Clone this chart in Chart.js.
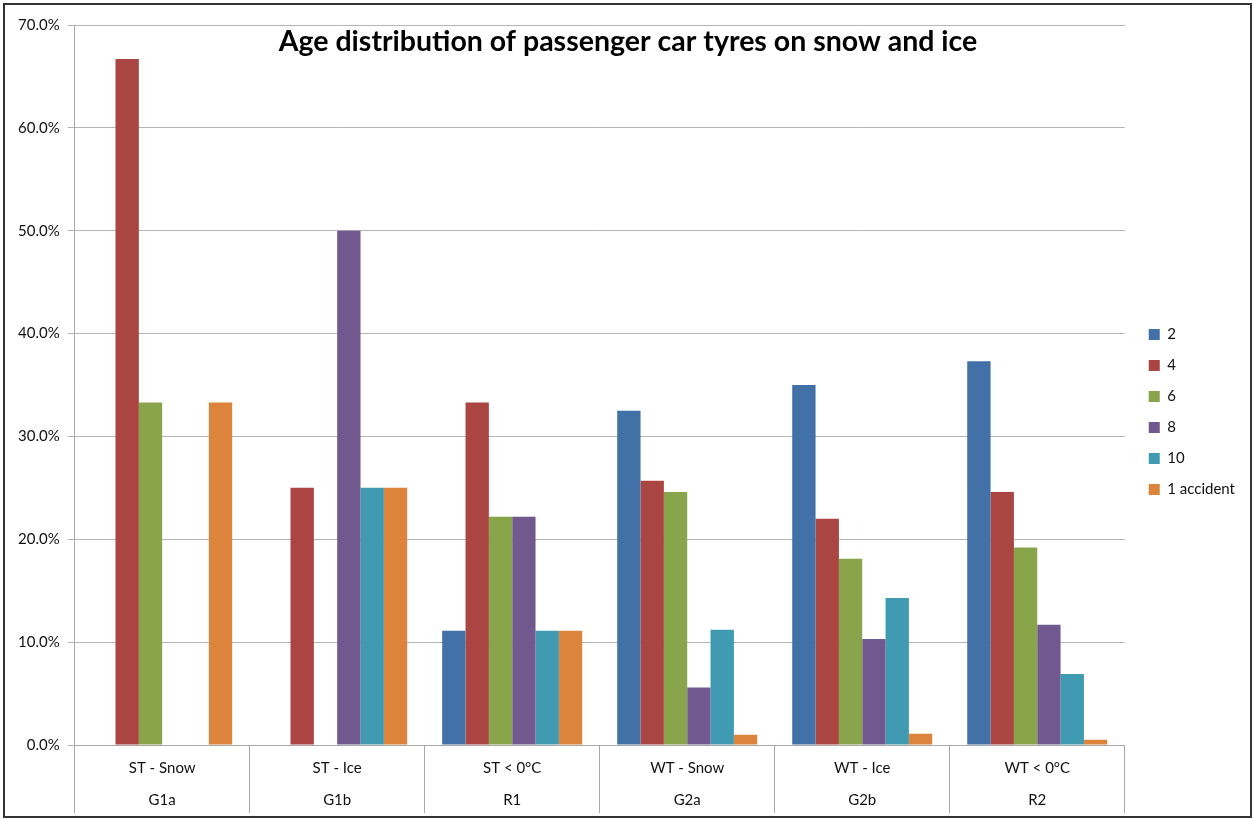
<!DOCTYPE html>
<html lang="en">
<head>
<meta charset="UTF-8">
<title>Age distribution of passenger car tyres</title>
<style>
  body { margin: 0; background: #fff; }
  #wrap { position: relative; width: 1254px; height: 819px; }
  #frame { position: absolute; left: 3px; top: 3px; width: 1245px; height: 811px;
           border: 2px solid #333; pointer-events: none; }
</style>
</head>
<body>
<div id="wrap">
  <canvas id="myChart" width="1254" height="819"></canvas>
  <div id="frame"></div>
</div>
<script src="https://cdn.jsdelivr.net/npm/chart.js@4/dist/chart.umd.min.js"></script>
<script>
// categories (two label rows)
const conditions = ['ST - Snow', 'ST - Ice', 'ST < 0°C', 'WT - Snow', 'WT - Ice', 'WT < 0°C'];
const groups = ['G1a', 'G1b', 'R1', 'G2a', 'G2b', 'R2'];

// age classes, values in percent
const age2 = [0, 0, 11.1, 32.5, 35.0, 37.3];
const age4 = [66.7, 25.0, 33.3, 25.7, 22.0, 24.6];
const age6 = [33.3, 0, 22.2, 24.6, 18.1, 19.2];
const age8 = [0, 50.0, 22.2, 5.6, 10.3, 11.7];
const age10 = [0, 25.0, 11.1, 11.2, 14.3, 6.9];
const accident1 = [33.3, 25.0, 11.1, 1.0, 1.1, 0.5];

const seriesNames = ['2', '4', '6', '8', '10', '1 accident'];
const colors = ['#4271a8', '#aa4542', '#89a54c', '#71588f', '#3f9ab2', '#dc843b'];

const yTicks = [0, 10, 20, 30, 40, 50, 60, 70];
const chartTitle = 'Age distribution of passenger car tyres on snow and ice';

const FONT = 'Lato, "Open Sans", sans-serif';

// title sits inside the plot area like in the original
const titlePlugin = {
  id: 'insideTitle',
  afterLayout(chart) {
    // nudge the legend a bit away from the plot and up
    chart.legend.left += 8;
    chart.legend.top -= 10;
    chart.legend.bottom -= 10;
  },
  afterDraw(chart) {
    const c = chart.ctx;
    c.save();
    c.font = 'bold 28.5px ' + FONT;
    c.fillStyle = '#000';
    c.textAlign = 'center';
    c.textBaseline = 'middle';
    c.fillText(chartTitle, 628, 42);
    c.restore();
  }
};

const allSeries = [age2, age4, age6, age8, age10, accident1];

const ctx = document.getElementById('myChart').getContext('2d');
const myChart = new Chart(ctx, {
  type: 'bar',
  data: {
    labels: conditions.map((c, i) => [c, groups[i]]),
    datasets: allSeries.map((d, i) => ({
      label: seriesNames[i],
      data: d,
      backgroundColor: colors[i],
      borderWidth: 0,
      categoryPercentage: 0.8,
      barPercentage: 1.0
    }))
  },
  options: {
    responsive: false,
    animation: false,
    layout: { padding: { left: 10, right: 17, top: 25, bottom: 0 } },
    plugins: {
      title: { display: false },
      tooltip: { enabled: false },
      legend: {
        position: 'right',
        align: 'center',
        labels: {
          boxWidth: 11,
          boxHeight: 11,
          padding: 16,
          color: '#111',
          font: { family: FONT, size: 15 }
        }
      }
    },
    scales: {
      x: {
        grid: {
          offset: true,
          drawOnChartArea: false,
          drawTicks: true,
          tickLength: 68,
          color: '#a8a8a8'
        },
        border: { color: '#a8a8a8' },
        ticks: {
          padding: -61,
          color: '#111',
          font: { family: FONT, size: 15, lineHeight: 2.15 }
        },
        // labels sit between the long separator ticks, so give the axis its full height
        afterFit: (axis) => { axis.height = 74; }
      },
      y: {
        min: 0,
        max: 70,
        afterBuildTicks: (axis) => { axis.ticks = yTicks.map(v => ({ value: v })); },
        grid: { color: '#b4b4b4', tickLength: 7 },
        border: { color: '#a8a8a8' },
        ticks: {
          padding: 8,
          color: '#111',
          font: { family: FONT, size: 15 },
          callback: (v) => v.toFixed(1) + '%'
        }
      }
    }
  },
  plugins: [titlePlugin]
});
</script>
</body>
</html>
